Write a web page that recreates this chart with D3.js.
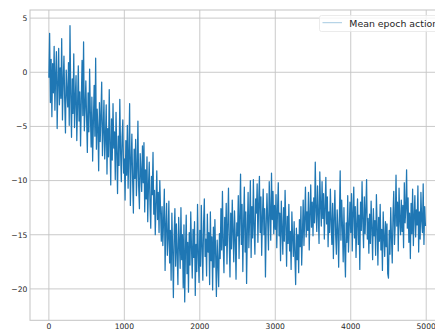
<!DOCTYPE html>
<html>
<head>
<meta charset="utf-8">
<script src="https://cdn.jsdelivr.net/npm/d3@7"></script>
<style>
  html, body { margin: 0; padding: 0; background: #fff; overflow: hidden; }
  svg { display: block; font-family: "DejaVu Sans", sans-serif; }
</style>
</head>
<body>
<svg id="chart" width="435" height="329"></svg>
<script>
// mean epoch action, one value every 10 epochs
const stepSize = 10;
const meanAction = [
  -0.5, 3.6, -2.8, 1.2, -4.1, 0.8, -1.9, 2.4, -3.5, -0.2, 1.9, -5.2, -1.1, 2.2, -3.0, 0.4, -2.4, 3.1, -4.4, -0.9, 1.5, -2.7, -5.6, 0.2, -1.8,
  -3.2, 0.9, -4.9, 4.3, -2.1, -6.0, -0.6, -3.8, 1.7, -5.1, -2.4, -0.3, -6.3, -3.1, 0.6, -4.5, -1.8, -6.8, -2.6, 1.1, -4.0, 2.8, -5.4, -3.3, -0.8,
  -4.2, -7.4, -1.9, -5.5, 0.3, -3.8, -6.9, -2.3, -8.2, -4.6, -1.2, -5.9, 1.3, -7.1, -3.4, -5.2, -9.1, -2.8, -6.4, -4.0, -0.9, -7.7, -5.3, -2.6, -8.0,
  -6.1, -3.0, -9.4, -5.2, -7.8, -1.6, -6.6, -10.4, -4.3, -8.1, -2.9, -7.0, -5.5, -9.9, -3.7, -7.4, -11.2, -5.9, -8.6, -2.5, -7.2, -10.1, -6.0, -4.4, -9.3,
  -8.0, -11.8, -6.3, -9.5, -4.9, -10.7, -7.6, -2.9, -12.3, -8.4, -5.7, -10.0, -13.0, -7.1, -9.8, -6.2, -11.4, -8.9, -4.5, -10.6, -12.6, -7.5, -9.2, -11.0, -6.8,
  -10.2, -6.5, -12.9, -9.0, -11.7, -7.8, -13.8, -10.5, -8.3, -12.2, -14.4, -9.6, -11.3, -7.4, -13.1, -10.9, -15.0, -12.0, -9.1, -13.6, -11.1, -14.8, -10.0, -12.7, -15.6,
  -12.4, -16.0, -13.7, -10.8, -18.3, -14.2, -12.1, -16.9, -15.3, -11.9, -17.6, -14.6, -19.2, -13.0, -16.4, -20.8, -15.1, -12.6, -17.9, -14.0, -16.7, -19.6, -13.4, -15.8, -18.1,
  -12.5, -17.3, -15.0, -19.9, -14.1, -21.2, -16.5, -13.2, -18.6, -15.7, -20.3, -14.8, -17.8, -12.9, -16.2, -19.0, -14.5, -17.1, -13.8, -20.6, -15.9, -18.4, -12.2, -16.8, -19.4,
  -14.6, -17.9, -12.3, -16.1, -19.2, -14.0, -11.7, -17.0, -15.4, -18.8, -13.1, -16.6, -14.8, -19.6, -12.9, -17.4, -15.2, -20.1, -14.3, -18.0, -13.6, -16.9, -20.7, -15.5, -17.6,
  -19.8, -14.9, -17.2, -12.6, -16.4, -11.0, -15.8, -18.5, -13.4, -16.0, -12.1, -17.7, -14.2, -10.7, -15.6, -18.9, -13.0, -16.3, -11.8, -14.7, -17.5, -12.8, -15.3, -19.1, -13.9,
  -15.1, -11.4, -17.2, -13.3, -9.4, -15.9, -12.2, -18.4, -14.0, -10.6, -16.6, -12.9, -19.5, -14.6, -11.1, -16.2, -13.5, -10.0, -17.1, -12.4, -15.3, -9.9, -14.4, -16.8, -11.7,
  -13.0, -10.3, -15.7, -12.1, -9.6, -14.8, -11.5, -16.9, -13.4, -10.8, -15.0, -12.6, -18.9, -14.1, -11.2, -13.9, -16.4, -10.1, -12.8, -15.5, -9.3, -13.6, -11.0, -14.9, -12.3,
  -14.5, -11.3, -16.2, -12.7, -10.2, -15.1, -13.0, -17.4, -11.9, -14.4, -16.8, -12.5, -15.6, -10.9, -14.0, -17.9, -13.3, -15.8, -12.2, -16.5, -14.7, -18.2, -12.9, -15.3, -17.0,
  -13.8, -16.9, -19.6, -14.4, -17.3, -15.0, -18.5, -13.6, -16.1, -12.4, -17.8, -14.9, -11.8, -16.0, -13.5, -10.6, -15.2, -12.9, -14.6, -11.1, -16.4, -13.2, -10.4, -14.3, -12.0,
  -15.1, -11.6, -13.9, -8.3, -12.8, -14.7, -10.5, -13.1, -15.8, -9.2, -12.3, -14.2, -10.1, -13.5, -11.2, -15.4, -12.6, -9.7, -14.0, -11.5, -16.1, -12.9, -14.8, -10.8, -13.7,
  -15.9, -12.1, -17.2, -13.6, -10.9, -15.0, -16.8, -12.7, -14.4, -18.0, -13.3, -9.1, -15.5, -11.8, -14.1, -17.5, -12.5, -16.3, -18.9, -13.9, -15.7, -11.4, -16.6, -14.3, -12.0,
  -14.8, -11.2, -16.5, -13.0, -10.6, -15.3, -12.4, -17.1, -14.0, -11.7, -15.9, -13.2, -18.2, -12.0, -14.6, -10.1, -13.8, -16.2, -11.5, -14.9, -12.7, -9.9, -15.4, -13.5, -16.7,
  -13.1, -15.8, -11.9, -14.4, -17.3, -12.6, -15.1, -13.7, -16.9, -11.3, -14.2, -17.8, -13.4, -15.6, -12.2, -16.4, -14.5, -18.3, -12.9, -15.2, -17.0, -13.8, -16.1, -14.0, -18.6,
  -19.0, -14.6, -16.8, -12.5, -15.3, -17.6, -13.1, -11.0, -15.9, -13.8, -9.5, -14.2, -12.0, -16.5, -10.7, -13.6, -15.0, -11.8, -14.7, -12.3, -16.2, -10.2, -13.9, -12.6, -9.0,
  -14.4, -11.6, -15.7, -13.0, -17.2, -12.1, -14.9, -10.8, -16.0, -13.3, -11.4, -15.2, -12.7, -14.1, -10.5, -16.6, -12.9, -15.4, -11.1, -13.7, -14.8, -10.3, -15.9, -12.4, -14.2
];
const xTicks = [0, 1000, 2000, 3000, 4000, 5000];
const yTicks = [-20, -15, -10, -5, 0, 5];
const seriesName = "Mean epoch action";

const svg = d3.select("#chart");
const plot = { left: 30, top: 10, right: 445, bottom: 320.3 };

const x = d3.scaleLinear().domain([-250, 5249]).range([plot.left, plot.right]);
const y = d3.scaleLinear().domain([-22.9, 5.75]).range([plot.bottom, plot.top]);

const gridColor = "#c4c4c4";
const textColor = "#262626";
const fmt = d => d < 0 ? "\u2212" + Math.abs(d) : String(d);

// grid
const grid = svg.append("g");
grid.selectAll(".gx").data(xTicks).enter().append("line")
  .attr("x1", d => x(d)).attr("x2", d => x(d))
  .attr("y1", plot.top).attr("y2", plot.bottom)
  .attr("stroke", gridColor).attr("stroke-width", 0.9);
grid.selectAll(".gy").data(yTicks).enter().append("line")
  .attr("x1", plot.left).attr("x2", plot.right)
  .attr("y1", d => y(d)).attr("y2", d => y(d))
  .attr("stroke", gridColor).attr("stroke-width", 0.9);

// spines
svg.append("rect")
  .attr("x", plot.left).attr("y", plot.top)
  .attr("width", plot.right - plot.left).attr("height", plot.bottom - plot.top)
  .attr("fill", "none").attr("stroke", gridColor).attr("stroke-width", 1);

// line
const line = d3.line()
  .x((d, i) => x(i * stepSize))
  .y(d => y(d));
svg.append("path")
  .datum(meanAction)
  .attr("fill", "none")
  .attr("stroke", "#1f77b4")
  .attr("stroke-width", 1.25)
  .attr("stroke-linejoin", "round")
  .attr("d", line);

// tick labels
svg.append("g").selectAll("text").data(xTicks).enter().append("text")
  .attr("x", d => x(d)).attr("y", 329.2)
  .attr("text-anchor", "middle")
  .attr("font-size", 7.6).attr("fill", textColor)
  .text(fmt);
svg.append("g").selectAll("text").data(yTicks).enter().append("text")
  .attr("x", 27.3).attr("y", d => y(d) + 2.8)
  .attr("text-anchor", "end")
  .attr("font-size", 7.6).attr("fill", textColor)
  .text(fmt);

// legend
const legend = svg.append("g");
legend.append("rect")
  .attr("x", 319.5).attr("y", 15.5).attr("width", 130).attr("height", 16)
  .attr("rx", 2).attr("fill", "#fff").attr("fill-opacity", 0.8)
  .attr("stroke", "#e6e6e6").attr("stroke-width", 0.8);
legend.append("line")
  .attr("x1", 322.5).attr("x2", 342).attr("y1", 22.7).attr("y2", 22.7)
  .attr("stroke", "#1f77b4").attr("stroke-opacity", 0.5).attr("stroke-width", 0.8);
legend.append("text")
  .attr("x", 349.3).attr("y", 26.6)
  .attr("font-size", 9.4).attr("fill", textColor)
  .text(seriesName);
</script>
</body>
</html>
